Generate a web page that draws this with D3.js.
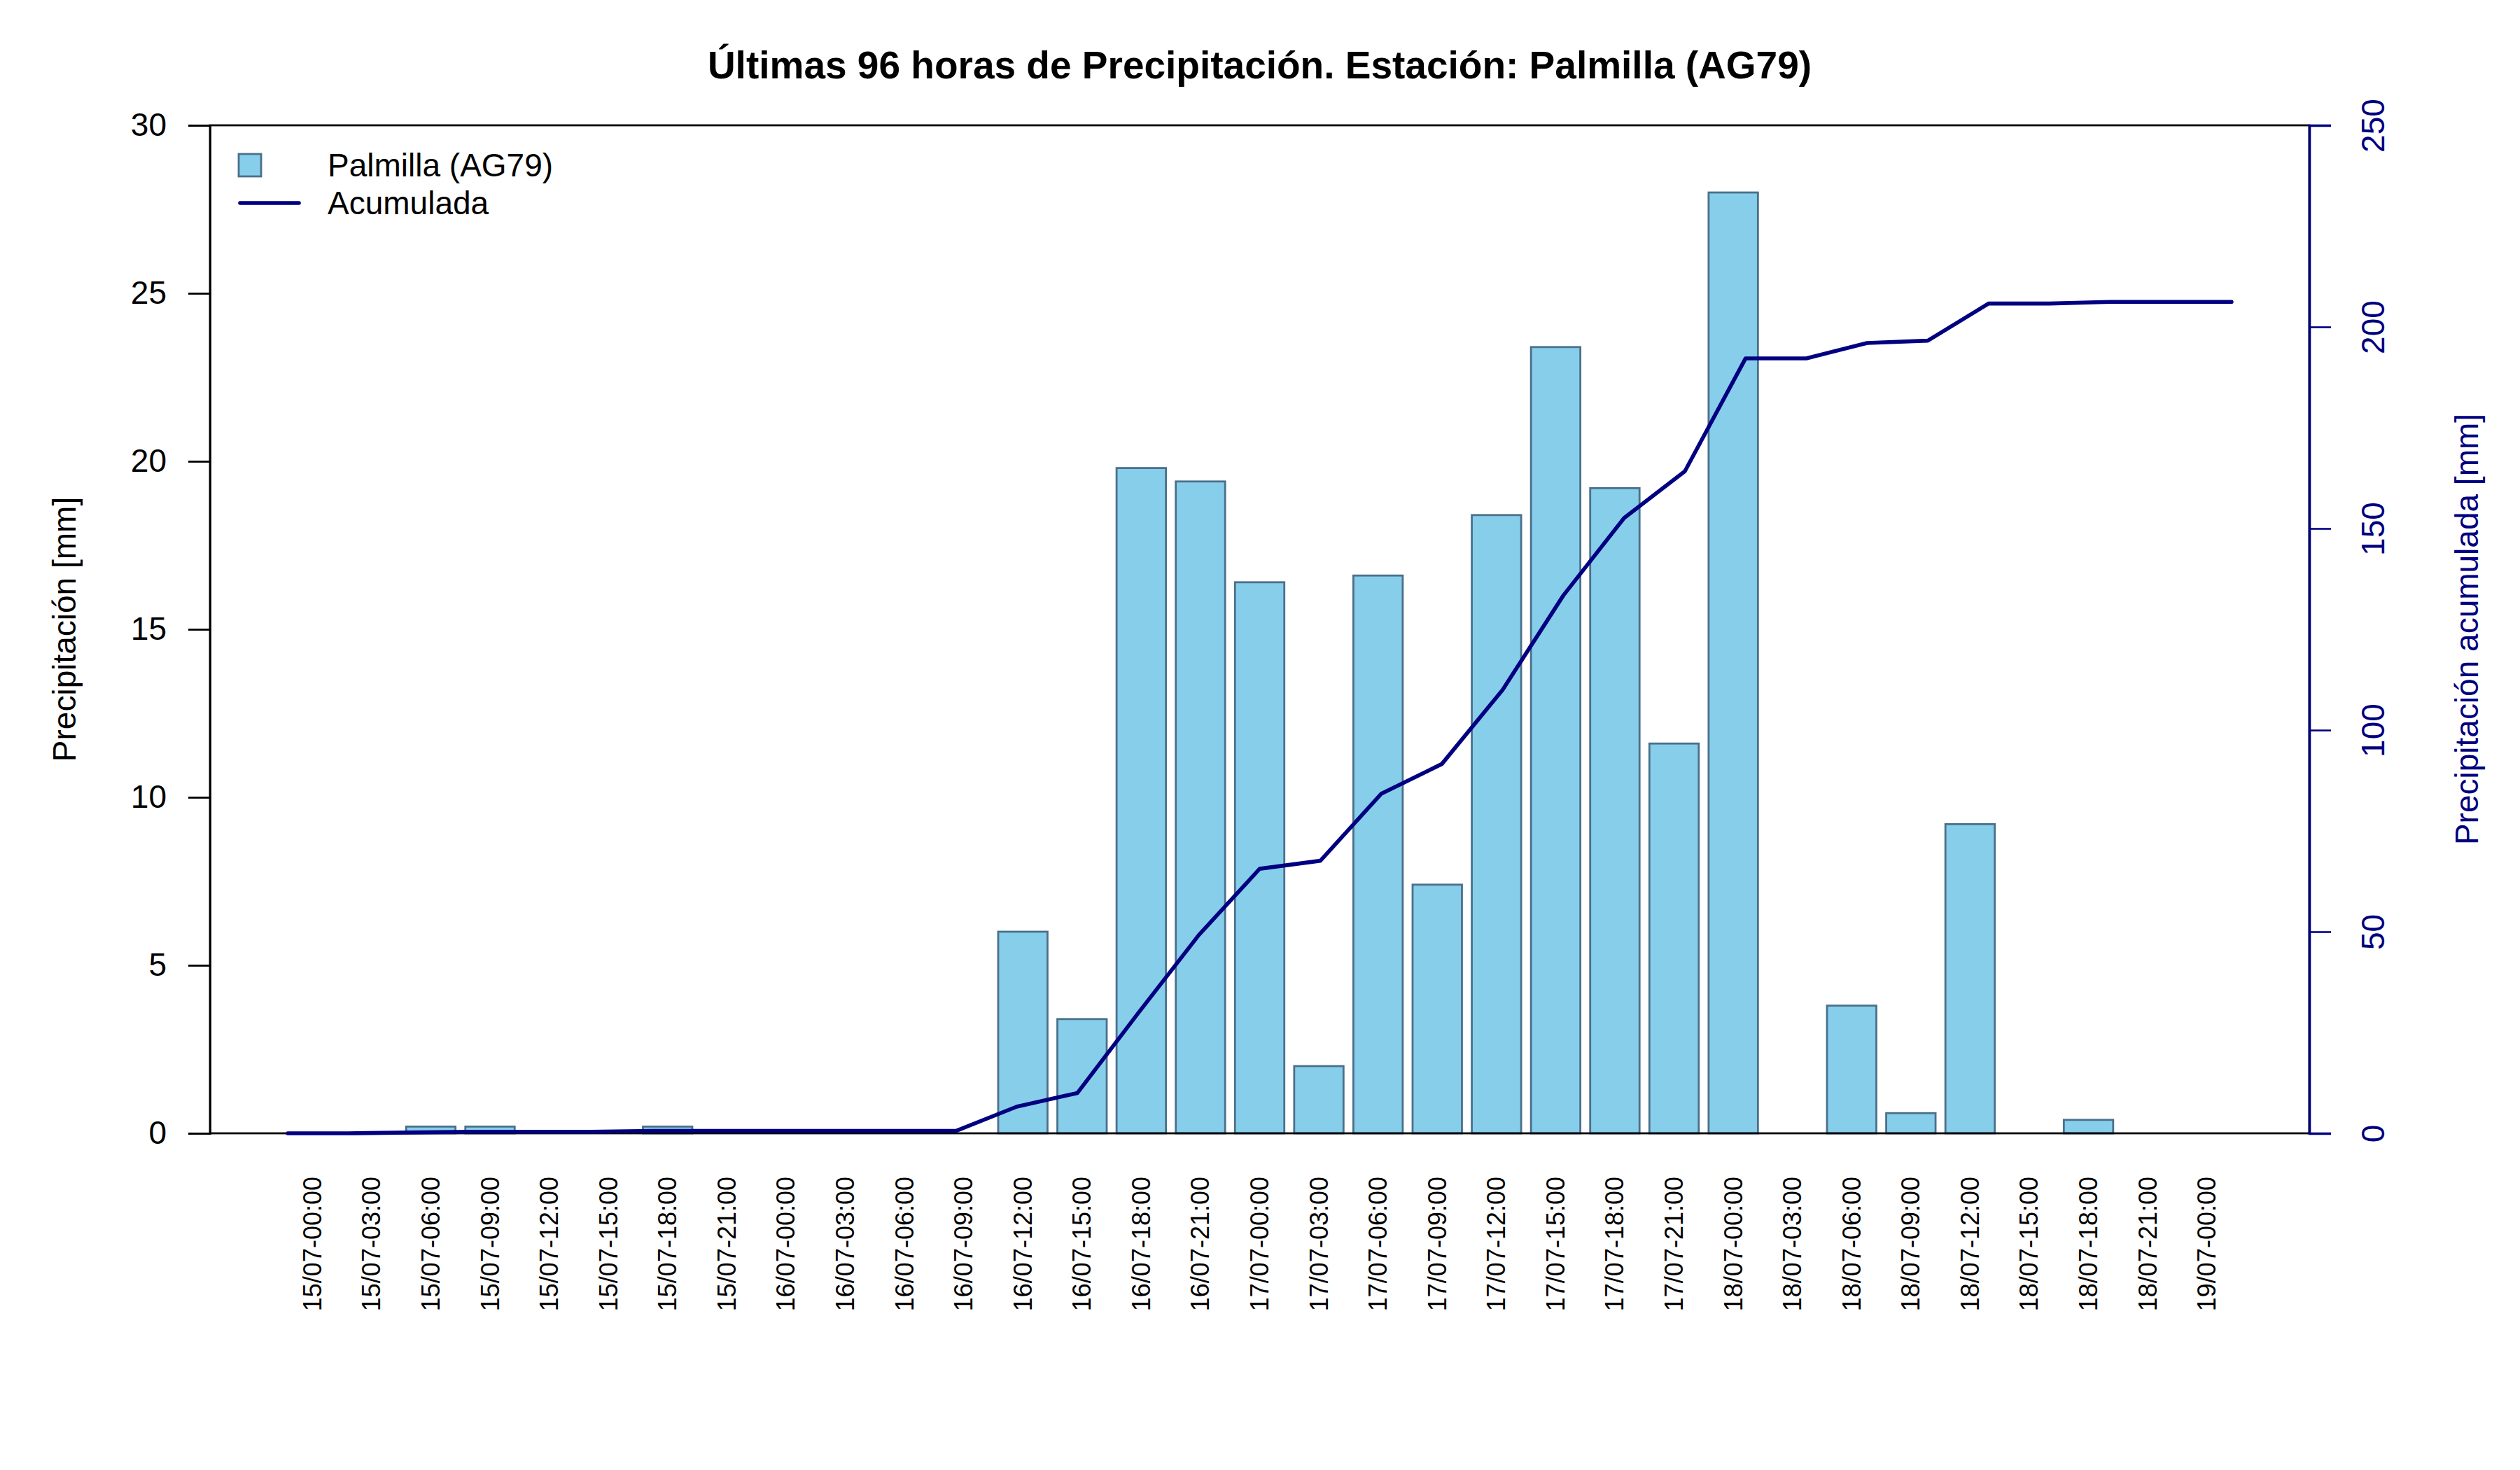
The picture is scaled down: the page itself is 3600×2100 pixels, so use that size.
<!DOCTYPE html>
<html>
<head>
<meta charset="utf-8">
<script src="https://cdn.jsdelivr.net/npm/d3@7"></script>
<style>
  body { margin: 0; background: #fff; }
  text { font-family: "Liberation Sans", Arial, sans-serif; }
</style>
</head>
<body>
<svg id="chart" width="3600" height="2100"></svg>
<script>
// fechas (cada 3 horas)
const fechas = ["15/07-00:00","15/07-03:00","15/07-06:00","15/07-09:00","15/07-12:00","15/07-15:00","15/07-18:00","15/07-21:00",
  "16/07-00:00","16/07-03:00","16/07-06:00","16/07-09:00","16/07-12:00","16/07-15:00","16/07-18:00","16/07-21:00",
  "17/07-00:00","17/07-03:00","17/07-06:00","17/07-09:00","17/07-12:00","17/07-15:00","17/07-18:00","17/07-21:00",
  "18/07-00:00","18/07-03:00","18/07-06:00","18/07-09:00","18/07-12:00","18/07-15:00","18/07-18:00","18/07-21:00",
  "19/07-00:00"];
// precipitacion por intervalo [mm]
const precip = [0,0,0.2,0.2,0,0,0.2,0,
  0,0,0,0,6.0,3.4,19.8,19.4,
  16.4,2.0,16.6,7.4,18.4,23.4,19.2,11.6,
  28.0,0,3.8,0.6,9.2,0,0.4,0,
  0];
// precipitacion acumulada [mm]
const acumulada = [0,0,0.2,0.4,0.4,0.4,0.6,0.6,
  0.6,0.6,0.6,0.6,6.6,10.0,29.8,49.2,
  65.6,67.6,84.2,91.6,110.0,133.4,152.6,164.2,
  192.2,192.2,196.0,196.6,205.8,205.8,206.2,206.2,
  206.2];
const ticksIzq = [0,5,10,15,20,25,30];
const ticksDer = [0,50,100,150,200,250];

const svg = d3.select("#chart");
const mLeft = 300, mRight = 3299, mTop = 179, mBottom = 1619;
const navy = "#000080";
const fs = 46; // tamaño base de letra

svg.append("rect").attr("width",3600).attr("height",2100).attr("fill","#fff");

//escalas
const x = d3.scaleBand()
  .domain(d3.range(fechas.length))
  .range([mLeft,mRight])
  .paddingInner(1/6)
  .paddingOuter(1.313);
// la linea usa su propio eje x (1..n con 4% extra)
const n = fechas.length;
const ext = (n-1)*0.04;
const xl = d3.scaleLinear().domain([1-ext, n+ext]).range([mLeft,mRight]);
const y = d3.scaleLinear().domain([0,30]).range([mBottom,mTop]);
const y2 = d3.scaleLinear().domain([0,250]).range([mBottom,mTop]);

//barras
svg.append("g").selectAll("rect")
  .data(precip)
  .enter()
  .append("rect")
  .attr("x",(d,i)=>x(i))
  .attr("y",d=>y(d))
  .attr("width",x.bandwidth())
  .attr("height",d=>y(0)-y(d))
  .attr("fill","#87CEEB")
  .attr("stroke","#4A708B")
  .attr("stroke-width",2.8);

//caja
svg.append("rect")
  .attr("x",mLeft).attr("y",mTop)
  .attr("width",mRight-mLeft).attr("height",mBottom-mTop)
  .attr("fill","none").attr("stroke","#000").attr("stroke-width",2.8);

//linea acumulada
const linea = d3.line()
  .x((d,i)=>xl(i+1))
  .y(d=>y2(d));
svg.append("path")
  .datum(acumulada)
  .attr("d",linea)
  .attr("fill","none")
  .attr("stroke",navy)
  .attr("stroke-width",5.6)
  .attr("stroke-linejoin","round")
  .attr("stroke-linecap","round");

//eje izquierdo
const ejeIzq = svg.append("g")
  .attr("transform","translate("+mLeft+",0)")
  .call(d3.axisLeft(y).tickValues(ticksIzq).tickSize(31).tickPadding(31));
ejeIzq.select(".domain").attr("stroke","#000").attr("stroke-width",2.8);
ejeIzq.selectAll(".tick line").attr("stroke","#000").attr("stroke-width",2.8);
ejeIzq.selectAll(".tick text")
  .attr("font-size",fs).attr("fill","#000")
  .style("font-family","'Liberation Sans', Arial, sans-serif");

//eje derecho
const ejeDer = svg.append("g")
  .attr("transform","translate("+mRight+",0)")
  .call(d3.axisRight(y2).tickValues(ticksDer).tickSize(31).tickFormat(d3.format("d")));
ejeDer.select(".domain").attr("stroke",navy).attr("stroke-width",3.6);
ejeDer.selectAll(".tick line").attr("stroke",navy).attr("stroke-width",2.6);
ejeDer.selectAll(".tick text")
  .attr("font-size",fs).attr("fill",navy)
  .attr("x",0).attr("dy",null)
  .attr("text-anchor","middle")
  .attr("dominant-baseline","central")
  .attr("transform","translate(91,0) rotate(-90)")
  .style("font-family","'Liberation Sans', Arial, sans-serif");

//etiquetas de fecha
svg.append("g").selectAll("text")
  .data(fechas)
  .enter()
  .append("text")
  .attr("transform",(d,i)=>"translate("+(x(i)+x.bandwidth()/2)+","+(mBottom+62)+") rotate(-90)")
  .attr("text-anchor","end")
  .attr("dominant-baseline","central")
  .attr("font-size",36)
  .text(d=>d);

//titulos
svg.append("text")
  .attr("x",(mLeft+mRight)/2).attr("y",112)
  .attr("text-anchor","middle")
  .attr("font-size",55)
  .attr("font-weight","bold")
  .text("Últimas 96 horas de Precipitación. Estación: Palmilla (AG79)");

svg.append("text")
  .attr("transform","translate(92,"+((mTop+mBottom)/2)+") rotate(-90)")
  .attr("text-anchor","middle")
  .attr("dominant-baseline","central")
  .attr("font-size",fs)
  .text("Precipitación [mm]");

svg.append("text")
  .attr("transform","translate(3524,"+((mTop+mBottom)/2)+") rotate(-90)")
  .attr("text-anchor","middle")
  .attr("dominant-baseline","central")
  .attr("font-size",fs)
  .attr("fill",navy)
  .text("Precipitación acumulada [mm]");

//leyenda
const ley = svg.append("g");
ley.append("rect")
  .attr("x",341).attr("y",220).attr("width",32).attr("height",32)
  .attr("fill","#87CEEB").attr("stroke","#4A708B").attr("stroke-width",2.8);
ley.append("line")
  .attr("x1",343).attr("x2",427).attr("y1",290).attr("y2",290)
  .attr("stroke",navy).attr("stroke-width",5.6).attr("stroke-linecap","round");
ley.selectAll("text.ley")
  .data(["Palmilla (AG79)","Acumulada"])
  .enter()
  .append("text")
  .attr("class","ley")
  .attr("x",468)
  .attr("y",(d,i)=>236+i*54)
  .attr("dominant-baseline","central")
  .attr("font-size",fs)
  .text(d=>d);
</script>
</body>
</html>
